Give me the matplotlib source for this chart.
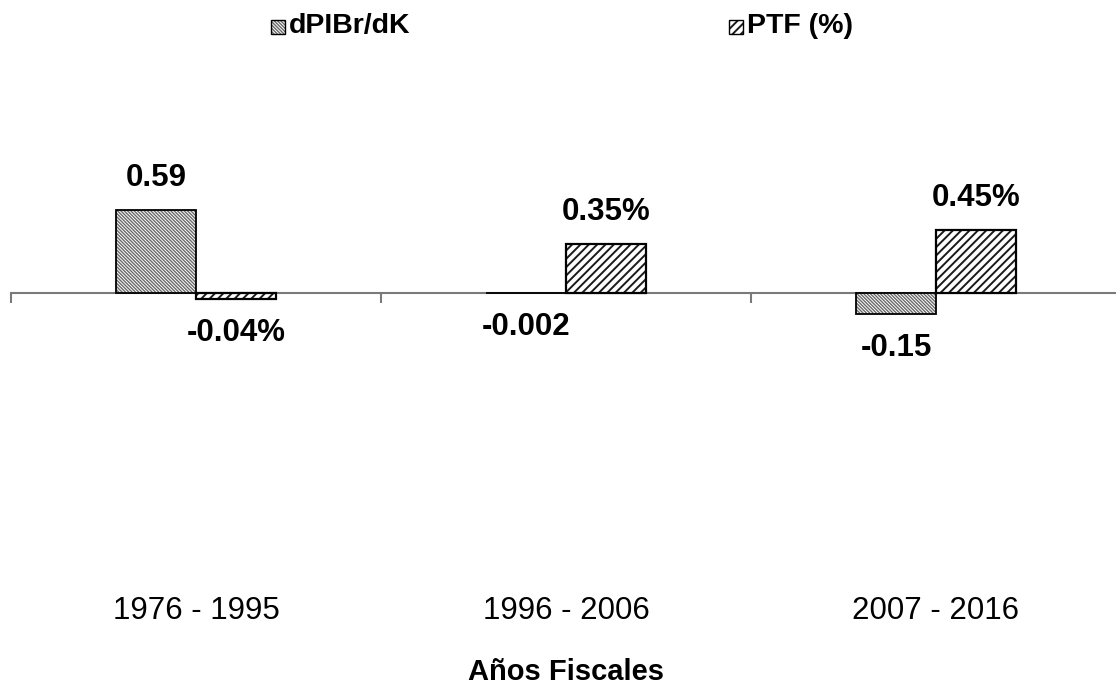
import matplotlib
matplotlib.use("Agg")
import matplotlib.pyplot as plt
import numpy as np
from matplotlib.patches import Rectangle
from matplotlib.transforms import blended_transform_factory

plt.rcParams["font.family"] = ["Liberation Sans", "DejaVu Sans"]

# Data
periods = ["1976 - 1995", "1996 - 2006", "2007 - 2016"]
dpib_dk = [0.59, -0.002, -0.15]
ptf_pct = [-0.04, 0.35, 0.45]
series_names = ["dPIBr/dK", "PTF (%)"]
dpib_labels = ["0.59", "-0.002", "-0.15"]
ptf_labels = ["-0.04%", "0.35%", "0.45%"]

W, H = 1116, 689
fig = plt.figure(figsize=(W / 100, H / 100), dpi=100)

# plot area in pixel terms
px_left, px_right = 11, 1121
px_top, px_bottom = 80, 595
px_zero = 293
px_per_unit = 141.0

ax = fig.add_axes([px_left / W, 1 - px_bottom / H,
                   (px_right - px_left) / W, (px_bottom - px_top) / H])
ax.set_xlim(-0.5, 2.5)
ax.set_ylim(-(px_bottom - px_zero) / px_per_unit, (px_zero - px_top) / px_per_unit)

x = np.arange(len(periods))
bw = 80 / 370.0

hatch_a = "\\" * 10   # dense back-diagonal
hatch_b = "////"      # forward diagonal
col_a = "#6a6a6a"
col_b = "#1a1a1a"

# dPIBr/dK bars
plt.rcParams["hatch.linewidth"] = 1.0
ax.bar(x - bw / 2, dpib_dk, width=bw, color="white", edgecolor=col_a,
       hatch=hatch_a, linewidth=0, zorder=2)
ax.bar(x - bw / 2, dpib_dk, width=bw, fill=False, edgecolor="black",
       linewidth=1.3, zorder=3)
# PTF bars
plt.rcParams["hatch.linewidth"] = 1.4
ax.bar(x + bw / 2, ptf_pct, width=bw, color="white", edgecolor=col_b,
       hatch=hatch_b, linewidth=0, zorder=2)
ax.bar(x + bw / 2, ptf_pct, width=bw, fill=False, edgecolor="black",
       linewidth=1.6, zorder=3)

# value labels
def put_labels(xs, vals, labels):
    for xi, v, t in zip(xs, vals, labels):
        off = 23 if v >= 0 else -24.5
        ax.annotate(t, (xi, v), xytext=(0, off), textcoords="offset points",
                    ha="center", va="center", fontsize=22.5, fontweight="bold",
                    color="black", zorder=5)

put_labels(x - bw / 2, dpib_dk, dpib_labels)
put_labels(x + bw / 2, ptf_pct, ptf_labels)

# axis: horizontal line at zero with tick marks between categories
for s in ["left", "right", "top"]:
    ax.spines[s].set_visible(False)
ax.spines["bottom"].set_position(("data", 0))
ax.spines["bottom"].set_color("#7a7a7a")
ax.spines["bottom"].set_linewidth(1.5)
ax.spines["bottom"].set_zorder(1)
ax.set_xticks([-0.5, 0.5, 1.5, 2.5])
ax.set_xticklabels([])
ax.tick_params(axis="x", direction="out", length=7.5, width=1.5, color="#7a7a7a")
ax.set_yticks([])

# category labels at the bottom of the plot area
tr = blended_transform_factory(ax.transData, fig.transFigure)
for xi, p in zip(x, periods):
    ax.text(xi, 1 - 611 / H, p, transform=tr, ha="center", va="center",
            fontsize=22.5, color="black")

fig.text(566 / W, 1 - 672 / H, "Años Fiscales", ha="center", va="center",
         fontsize=21, fontweight="bold")

# legend along the top
leg_items = [(271, series_names[0], hatch_a, col_a, 1.0),
             (729, series_names[1], hatch_b, col_b, 1.4)]
for lx, name, h, hc, hlw in leg_items:
    plt.rcParams["hatch.linewidth"] = hlw
    fig.patches.append(Rectangle((lx / W, 1 - 34 / H), 14 / W, 14 / H,
                                 transform=fig.transFigure, facecolor="white",
                                 edgecolor=hc, hatch=h, linewidth=0))
    fig.patches.append(Rectangle((lx / W, 1 - 34 / H), 14 / W, 14 / H,
                                 transform=fig.transFigure, fill=False,
                                 edgecolor="black", linewidth=1.0))
    fig.text((lx + 18) / W, 1 - 26 / H, name, ha="left", va="center",
             fontsize=20.5, fontweight="bold")

fig.savefig("out.png", dpi=100, facecolor="white")
